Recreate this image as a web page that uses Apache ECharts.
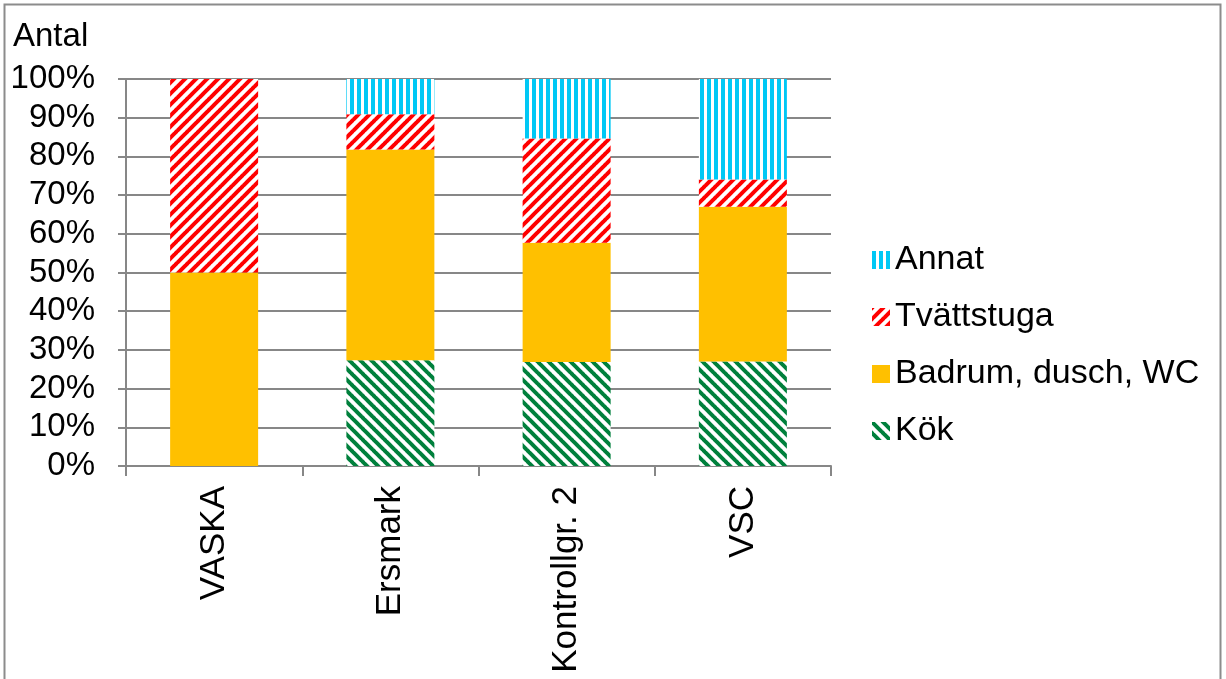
<!DOCTYPE html>
<html>
<head>
<meta charset="utf-8">
<script src="https://cdn.jsdelivr.net/npm/echarts@6/dist/echarts.min.js"></script>
<style>
  html, body { margin: 0; padding: 0; background: #fff; }
  #chart { width: 1226px; height: 679px; }
</style>
</head>
<body>
<div id="chart"></div>
<script>
// Categories and percentage shares per room type
const categories = ['VASKA', 'Ersmark', 'Kontrollgr. 2', 'VSC'];
const kok        = [0, 27.3, 26.9, 27];
const badrum     = [50, 54.5, 30.8, 40];
const tvattstuga = [50, 9.1, 26.9, 7];
const annat      = [0, 9.1, 15.4, 26];
const yTicks     = [0, 10, 20, 30, 40, 50, 60, 70, 80, 90, 100];

const FONT = '"Liberation Sans", Arial, sans-serif';

// Striped fill patterns drawn on small canvases
function stripePattern(color, kind) {
  const s = kind === 'vertical' ? 7 : 11;
  const c = document.createElement('canvas');
  c.width = s; c.height = s;
  const g = c.getContext('2d');
  g.fillStyle = '#ffffff';
  g.fillRect(0, 0, s, s);
  g.strokeStyle = color;
  if (kind === 'vertical') {
    g.fillStyle = color;
    g.fillRect(0, 0, 4, s);
  } else {
    g.lineWidth = 4;
    for (let k = -1; k <= 1; k++) {
      g.beginPath();
      if (kind === 'up') {
        g.moveTo(k * s - 1, s + 1);
        g.lineTo(k * s + s + 1, -1);
      } else {
        g.moveTo(k * s - 1, -1);
        g.lineTo(k * s + s + 1, s + 1);
      }
      g.stroke();
    }
  }
  return { image: c, repeat: 'repeat' };
}

const kokFill = stripePattern('#00803c', 'down');
const tvattFill = stripePattern('#ff0000', 'up');
const annatFill = stripePattern('#00c8f5', 'vertical');
const badrumFill = '#ffc000';

const chart = echarts.init(document.getElementById('chart'), null, { renderer: 'canvas' });

function barSeries(name, data, fill) {
  return {
    name: name,
    type: 'bar',
    stack: 'total',
    data: data,
    barWidth: 88,
    itemStyle: { color: fill },
    emphasis: { disabled: true }
  };
}

chart.setOption({
  animation: false,
  backgroundColor: '#ffffff',
  textStyle: { fontFamily: FONT },
  graphic: [{
    type: 'rect',
    shape: { x: 4.5, y: 4.5, width: 1216, height: 700 },
    style: { fill: 'none', stroke: '#8c8c8c', lineWidth: 2 },
    silent: true
  }, {
    type: 'text',
    x: 13, y: 20,
    style: { text: 'Antal', fill: '#000', font: '33px ' + FONT }
  }],
  grid: { left: 126, right: 395, top: 79, bottom: 213, containLabel: false },
  legend: {
    orient: 'vertical',
    left: 867,
    top: 238,
    itemGap: 23,
    itemWidth: 18,
    itemHeight: 18,
    icon: 'rect',
    selectedMode: false,
    textStyle: { fontFamily: FONT, fontSize: 34, lineHeight: 34, color: '#000', padding: [0, 0, 0, 0] },
    data: ['Annat', 'Tvättstuga', 'Badrum, dusch, WC', 'Kök']
  },
  xAxis: {
    type: 'category',
    data: categories,
    axisLine: { lineStyle: { color: '#878787', width: 2 } },
    axisTick: { show: true, length: 10, lineStyle: { color: '#878787', width: 2 } },
    axisLabel: { rotate: 90, margin: 20, fontSize: 35, color: '#000', fontFamily: FONT }
  },
  yAxis: {
    type: 'value',
    min: yTicks[0],
    max: yTicks[yTicks.length - 1],
    interval: yTicks[1] - yTicks[0],
    axisLine: { show: true, lineStyle: { color: '#878787', width: 2 } },
    axisTick: { show: true, length: 8, lineStyle: { color: '#878787', width: 2 } },
    splitLine: { lineStyle: { color: '#878787', width: 2 } },
    axisLabel: { formatter: '{value}%', margin: 31, fontSize: 33, color: '#000', fontFamily: FONT }
  },
  series: [
    barSeries('Kök', kok, kokFill),
    barSeries('Badrum, dusch, WC', badrum, badrumFill),
    barSeries('Tvättstuga', tvattstuga, tvattFill),
    barSeries('Annat', annat, annatFill)
  ]
});
</script>
</body>
</html>
